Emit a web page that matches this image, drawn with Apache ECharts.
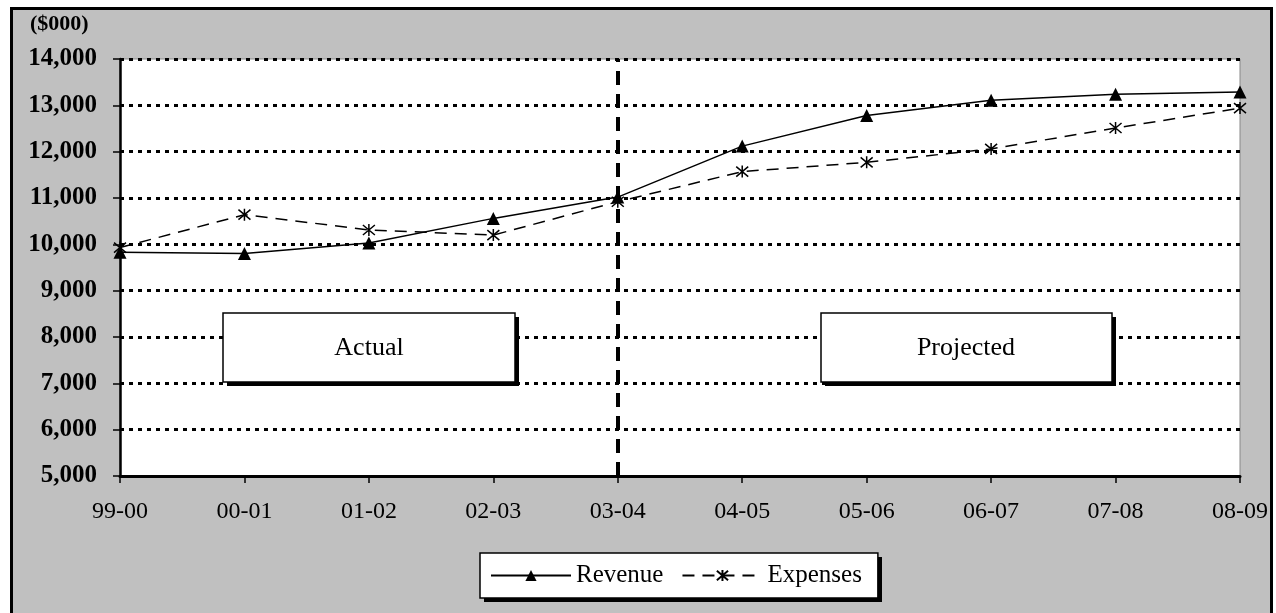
<!DOCTYPE html>
<html>
<head>
<meta charset="utf-8">
<title>Revenue vs Expenses</title>
<script src="https://cdn.jsdelivr.net/npm/echarts/dist/echarts.min.js"></script>
<style>
    html, body { margin: 0; padding: 0; background: #fff; overflow: hidden; }
    #frame { position: absolute; left: 10px; top: 7px; width: 1257px; height: 620px;
             border: 3px solid #000; background: #c0c0c0; }
    #line-map { position: absolute; left: 0; top: 0; width: 1276px; height: 613px; }
</style>
</head>
<body>
<div id="frame"></div>
<div id="line-map"></div>
<script>
// data ($000)
let years = ['99-00', '00-01', '01-02', '02-03', '03-04', '04-05', '05-06', '06-07', '07-08', '08-09'];
let revenue = [9830, 9800, 10030, 10560, 11020, 12120, 12780, 13110, 13240, 13290];
let expenses = [9930, 10640, 10310, 10200, 10920, 11570, 11770, 12060, 12510, 12940];
let yTicks = { min: 5000, max: 14000, step: 1000 };
let splitAt = '03-04';

let serif = '"Liberation Serif", "Times New Roman", serif';
let star = 'path://M-1,-1L1,1M-1,1L1,-1M0,-1.2L0,1.2';

let myChart = echarts.init(document.getElementById('line-map'));

// box with a hard black drop shadow (shadow drawn as its own rect)
function shadowBox(x, y, w, h, z) {
    return [
        { type: 'rect', shape: { x: x + 4, y: y + 4, width: w, height: h }, style: { fill: '#000' }, z: z },
        { type: 'rect', shape: { x: x, y: y, width: w, height: h },
          style: { fill: '#fff', stroke: '#000', lineWidth: 1.5 }, z: z + 1 }
    ];
}

function boxText(txt, x, y) {
    return { type: 'text', x: x, y: y, z: 102,
             style: { text: txt, font: '26px ' + serif, fill: '#000', align: 'center', verticalAlign: 'middle' } };
}

let option = {
    animation: false,
    backgroundColor: 'transparent',
    title: {
        text: '($000)',
        left: 25,
        top: 8,
        textStyle: { fontFamily: serif, fontSize: 22, fontWeight: 'bold', color: '#000' }
    },
    legend: {
        data: ['Revenue', 'Expenses'],
        left: 480,
        top: 553,
        z: 10,
        padding: [10, 16, 10, 10],
        itemWidth: 80,
        itemHeight: 14,
        itemGap: 18,
        backgroundColor: '#fff',
        borderColor: '#000',
        borderWidth: 1.5,
        textStyle: { fontFamily: serif, fontSize: 25, color: '#000' }
    },
    grid: {
        left: 120,
        right: 36,
        top: 59,
        bottom: 137,
        show: true,
        backgroundColor: '#fff',
        borderColor: '#888',
        borderWidth: 1
    },
    xAxis: {
        type: 'category',
        boundaryGap: false,
        data: years,
        axisLine: { lineStyle: { color: '#000', width: 3 } },
        axisTick: { length: 7, lineStyle: { color: '#000', width: 1.5 } },
        axisLabel: { margin: 24, fontFamily: serif, fontSize: 24, color: '#000' }
    },
    yAxis: {
        type: 'value',
        min: yTicks.min,
        max: yTicks.max,
        interval: yTicks.step,
        axisLine: { show: true, lineStyle: { color: '#000', width: 2.5 } },
        axisTick: { show: true, length: 7, lineStyle: { color: '#000', width: 1.5 } },
        axisLabel: {
            margin: 23,
            fontFamily: serif,
            fontSize: 25,
            fontWeight: 'bold',
            color: '#000',
            formatter: function (v) {
                return v.toLocaleString('en-US');
            }
        },
        splitLine: { lineStyle: { color: '#000', width: 3, type: [4, 5] } }
    },
    graphic: []
        .concat(shadowBox(223, 313, 292, 69, 100))
        .concat(shadowBox(821, 313, 291, 69, 100))
        .concat([
            boxText('Actual', 369, 348),
            boxText('Projected', 966, 348),
            // legend shadow
            { type: 'rect', shape: { x: 484, y: 557, width: 398, height: 45 }, style: { fill: '#000' }, z: 1 }
        ]),
    series: [
        {
            name: 'Revenue',
            type: 'line',
            data: revenue,
            symbol: 'triangle',
            symbolSize: 13,
            lineStyle: { color: '#000', width: 1.5 },
            itemStyle: { color: '#000' },
            markLine: {
                silent: true,
                symbol: 'none',
                label: { show: false },
                lineStyle: { color: '#000', width: 4, type: [14, 9] },
                data: [{ xAxis: splitAt }]
            }
        },
        {
            name: 'Expenses',
            type: 'line',
            data: expenses,
            symbol: star,
            symbolSize: 12,
            lineStyle: { color: '#000', width: 1.5, type: [12, 8] },
            itemStyle: { color: '#000', borderColor: '#000', borderWidth: 1.5 }
        }
    ]
};

myChart.setOption(option);
window.addEventListener("resize", function () {
    myChart.resize();
});
</script>
</body>
</html>
